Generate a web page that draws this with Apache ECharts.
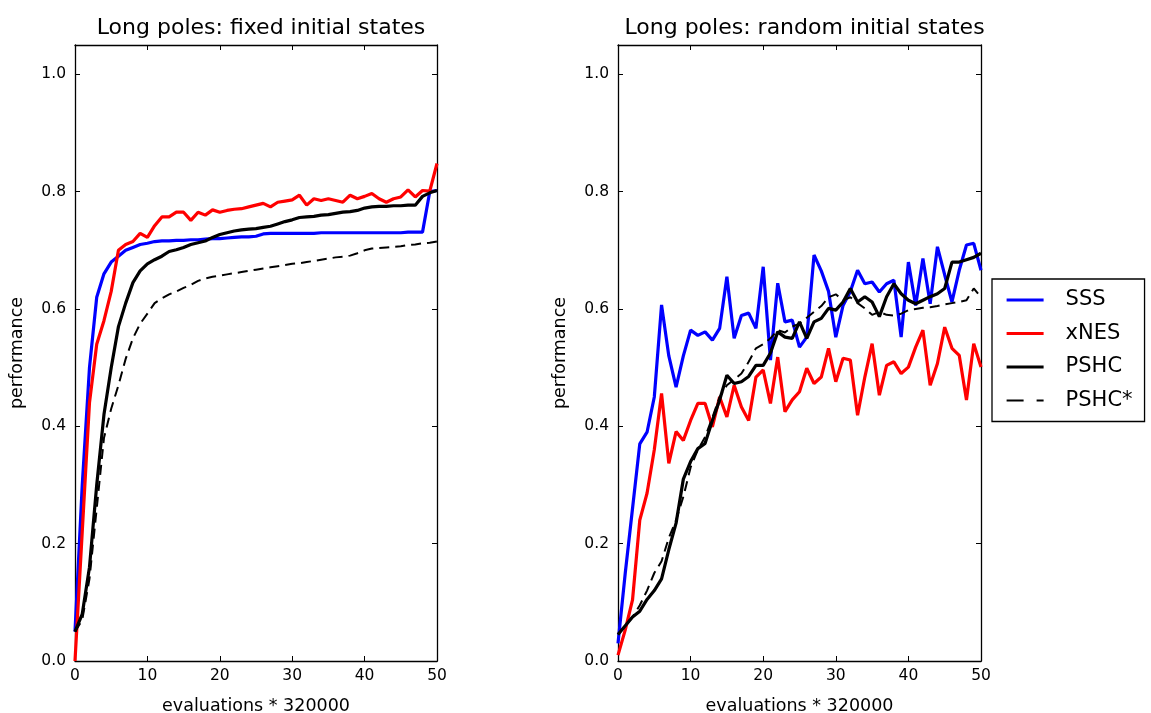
<!DOCTYPE html>
<html>
<head>
<meta charset="utf-8">
<script src="https://cdn.jsdelivr.net/npm/echarts@6/dist/echarts.min.js"></script>
<style>
html,body{margin:0;padding:0;background:#fff;}
#c{width:1151px;height:713px;}
</style>
</head>
<body>
<div id="c"></div>
<script>
// ---- data ----
const titles = ['Long poles: fixed initial states', 'Long poles: random initial states'];
const seriesNames = ['SSS', 'xNES', 'PSHC', 'PSHC*'];
const xTicks = [0, 10, 20, 30, 40, 50];
const yTicks = [0.0, 0.2, 0.4, 0.6, 0.8, 1.0];
const xLabel = 'evaluations * 320000';
const yLabel = 'performance';

// fixed initial states (x = 0..50)
const fixedSSS = [0.05,0.30,0.50,0.62,0.66,0.68,0.69,0.70,0.705,0.71,0.712,0.715,0.716,0.716,0.717,0.717,0.718,0.718,0.719,0.72,0.72,0.721,0.722,0.723,0.723,0.724,0.728,0.729,0.729,0.729,0.729,0.729,0.729,0.729,0.73,0.73,0.73,0.73,0.73,0.73,0.73,0.73,0.73,0.73,0.73,0.73,0.731,0.731,0.731,0.80,0.802];
const fixedXNES = [0.0,0.22,0.44,0.54,0.58,0.63,0.70,0.71,0.715,0.729,0.722,0.742,0.757,0.757,0.765,0.765,0.751,0.765,0.76,0.769,0.765,0.768,0.77,0.771,0.774,0.777,0.78,0.774,0.782,0.784,0.786,0.794,0.777,0.788,0.785,0.788,0.785,0.782,0.794,0.788,0.792,0.797,0.788,0.782,0.788,0.791,0.803,0.791,0.802,0.801,0.848];
const fixedPSHC = [0.05,0.08,0.16,0.30,0.42,0.50,0.57,0.61,0.645,0.665,0.677,0.684,0.69,0.698,0.701,0.705,0.71,0.713,0.716,0.722,0.727,0.73,0.733,0.735,0.736,0.737,0.739,0.741,0.745,0.749,0.752,0.756,0.757,0.758,0.76,0.761,0.763,0.765,0.766,0.768,0.772,0.774,0.775,0.775,0.776,0.776,0.777,0.777,0.792,0.798,0.802];
const fixedPSHCs = [0.05,0.07,0.14,0.26,0.38,0.43,0.47,0.515,0.55,0.575,0.592,0.61,0.618,0.625,0.63,0.636,0.641,0.648,0.652,0.655,0.657,0.659,0.661,0.663,0.665,0.667,0.669,0.671,0.673,0.675,0.677,0.678,0.68,0.682,0.684,0.686,0.688,0.689,0.691,0.695,0.70,0.703,0.704,0.705,0.706,0.707,0.709,0.71,0.712,0.713,0.715];

// random initial states (x = 0..50)
const randSSS = [0.03,0.15,0.26,0.37,0.39,0.45,0.607,0.52,0.467,0.52,0.564,0.555,0.561,0.547,0.567,0.655,0.55,0.589,0.593,0.567,0.672,0.513,0.644,0.578,0.581,0.535,0.552,0.692,0.665,0.63,0.552,0.606,0.63,0.666,0.643,0.646,0.629,0.643,0.649,0.552,0.68,0.606,0.686,0.609,0.706,0.658,0.612,0.666,0.709,0.712,0.666];
const randXNES = [0.01,0.053,0.104,0.24,0.286,0.36,0.456,0.337,0.391,0.376,0.41,0.439,0.439,0.399,0.45,0.416,0.47,0.433,0.41,0.484,0.496,0.439,0.518,0.425,0.445,0.459,0.499,0.473,0.484,0.533,0.476,0.516,0.513,0.419,0.484,0.541,0.453,0.504,0.51,0.49,0.501,0.535,0.564,0.47,0.507,0.569,0.533,0.521,0.445,0.541,0.501];
const randPSHC = [0.045,0.06,0.075,0.085,0.105,0.12,0.14,0.19,0.235,0.31,0.34,0.362,0.371,0.41,0.445,0.487,0.473,0.476,0.485,0.504,0.504,0.525,0.561,0.552,0.55,0.578,0.55,0.578,0.584,0.601,0.598,0.612,0.635,0.612,0.621,0.612,0.587,0.621,0.643,0.626,0.615,0.609,0.615,0.621,0.626,0.635,0.68,0.68,0.684,0.688,0.695];
const randPSHCs = [0.045,0.06,0.075,0.095,0.12,0.15,0.17,0.21,0.24,0.28,0.33,0.36,0.382,0.415,0.45,0.47,0.48,0.49,0.51,0.533,0.54,0.55,0.564,0.56,0.57,0.575,0.585,0.595,0.605,0.62,0.625,0.615,0.62,0.61,0.601,0.59,0.595,0.59,0.589,0.592,0.598,0.60,0.602,0.603,0.605,0.608,0.61,0.612,0.615,0.635,0.62];

// ---- chart ----
const FONT = 'DejaVu Sans';
const colors = {SSS:'#0000ff', xNES:'#ff0000', PSHC:'#000000', 'PSHC*':'#000000'};
const grids = [
  {left: 75, width: 362, top: 45, height: 616},
  {left: 618, width: 363, top: 45, height: 616}
];
const xMin = xTicks[0], xMax = xTicks[xTicks.length-1], xInt = xTicks[1]-xTicks[0];
const yMin = yTicks[0], yInt = yTicks[1]-yTicks[0], yMax = 1.05;

function isTick(v){ return yTicks.some(t => Math.abs(t - v) < 1e-6); }

const xAxes = [], yAxes = [];
const axLine = {show:true, onZero:false, lineStyle:{color:'#000', width:1.3}};
const axTick = {show:true, inside:true, length:5, lineStyle:{color:'#000', width:1}};
grids.forEach((g, gi) => {
  xAxes.push({
    type:'value', gridIndex: gi, position:'bottom', min:xMin, max:xMax, interval:xInt,
    name: xLabel, nameLocation:'middle', nameGap: 36,
    nameTextStyle:{fontFamily:FONT, fontSize:17.5, color:'#000'},
    axisLine: axLine, axisTick: axTick,
    axisLabel:{fontFamily:FONT, fontSize:15.5, color:'#000', margin:7},
    splitLine:{show:false}
  });
  xAxes.push({
    type:'value', gridIndex: gi, position:'top', min:xMin, max:xMax, interval:xInt,
    axisLine: axLine, axisTick: axTick,
    axisLabel:{show:false}, splitLine:{show:false}
  });
  yAxes.push({
    type:'value', gridIndex: gi, position:'left', min:yMin, max:yMax, interval:yInt,
    name: yLabel, nameLocation:'middle', nameGap: 49, nameRotate: 90,
    nameTextStyle:{fontFamily:FONT, fontSize:17.5, color:'#000'},
    axisLine: axLine,
    axisTick: Object.assign({customValues: yTicks}, axTick),
    axisLabel:{fontFamily:FONT, fontSize:15.5, color:'#000', margin:9,
      customValues: yTicks,
      formatter: v => isTick(v) ? v.toFixed(1) : ''},
    splitLine:{show:false}
  });
  yAxes.push({
    type:'value', gridIndex: gi, position:'right', min:yMin, max:yMax, interval:yInt,
    axisLine: axLine,
    axisTick: Object.assign({customValues: yTicks}, axTick),
    axisLabel:{show:false}, splitLine:{show:false}
  });
});

function mk(name, arr, gi){
  const dashed = name === 'PSHC*';
  return {
    name, type:'line', xAxisIndex: gi*2, yAxisIndex: gi*2,
    data: arr.map((v,i) => [i, v]),
    showSymbol:false, symbol:'none', silent:true, animation:false,
    lineStyle:{color: colors[name], width: dashed ? 2 : 3.2, type: dashed ? [10,6] : 'solid'},
    itemStyle:{color: colors[name]},
    z: dashed ? 3 : 2
  };
}

const series = [
  mk('SSS', fixedSSS, 0), mk('xNES', fixedXNES, 0), mk('PSHC', fixedPSHC, 0), mk('PSHC*', fixedPSHCs, 0),
  mk('SSS', randSSS, 1), mk('xNES', randXNES, 1), mk('PSHC', randPSHC, 1), mk('PSHC*', randPSHCs, 1)
];

const legendData = seriesNames.map(n => n === 'PSHC*'
  ? {name:n, lineStyle:{type:[17,13], width:2}}
  : {name:n, lineStyle:{width:3.2}});

const chart = echarts.init(document.getElementById('c'), null, {renderer:'canvas'});
chart.setOption({
  backgroundColor:'#fff',
  animation:false,
  textStyle:{fontFamily:FONT},
  title: titles.map((t, i) => ({
    text: t, left: grids[i].left + grids[i].width/2, top: 12, textAlign:'center',
    textStyle:{fontFamily:FONT, fontSize:22, fontWeight:'normal', color:'#000'}
  })),
  legend:{
    data: legendData, orient:'vertical', left: 992, top: 279,
    itemWidth: 37, itemHeight: 14, itemGap: 9.5,
    padding:[9, 12, 9, 13],
    borderColor:'#000', borderWidth:1.3, backgroundColor:'#fff',
    itemStyle:{color:'rgba(0,0,0,0)', borderWidth:0, opacity:0},
    textStyle:{fontFamily:FONT, fontSize:21, lineHeight:24, color:'#000', padding:[0,0,0,17]},
    selectedMode:false
  },
  grid: grids.map(g => Object.assign({containLabel:false, outerBoundsMode:'none'}, g)),
  xAxis: xAxes,
  yAxis: yAxes,
  series
});
</script>
</body>
</html>
